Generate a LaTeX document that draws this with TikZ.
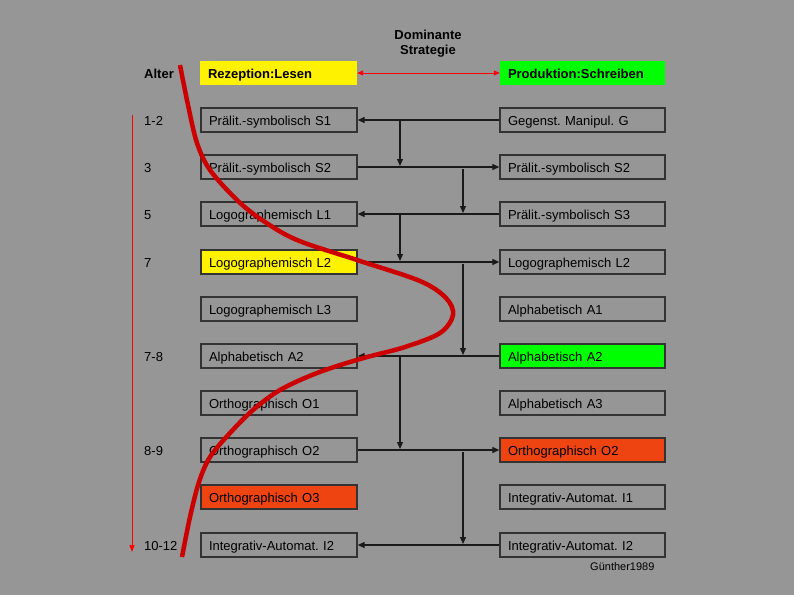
\documentclass[tikz,border=0pt]{standalone}
\usepackage{fontspec}
\setmainfont{Liberation Sans}
\usetikzlibrary{arrows.meta}
\definecolor{bg}{HTML}{969696}
\definecolor{boxline}{HTML}{333333}
\definecolor{conn}{HTML}{1A1A1A}
\definecolor{curvered}{HTML}{CC0000}
\definecolor{orangebox}{HTML}{EE4411}
\tikzset{
  lbox/.style={draw=boxline, line width=1.3pt, minimum height=24pt, text width=140pt, text height=11.8pt, text depth=1.5pt, inner xsep=8pt, inner ysep=0pt, align=left, font=\fontsize{13pt}{15pt}\selectfont},
  rbox/.style={lbox, text width=149pt},
  hbox/.style={minimum height=24pt, text height=11.5pt, text depth=1.5pt, inner xsep=8pt, inner ysep=0pt, align=left, font=\fontsize{13pt}{15pt}\selectfont\bfseries},
  agelab/.style={anchor=west, inner sep=0pt, text height=11.8pt, text depth=1.5pt, font=\fontsize{13pt}{15pt}\selectfont},
  conline/.style={draw=conn, line width=1.2pt, -{Triangle[length=7pt,width=6pt]}},
}
\begin{document}
\frenchspacing
\begin{tikzpicture}[x=1pt,y=-1pt]
\fill[bg] (0,0) rectangle (794,595);
\useasboundingbox (0,0) rectangle (794,595);

% title
\node[font=\fontsize{13pt}{15pt}\selectfont\bfseries, align=center] (title) at (428,44) {Dominante\\Strategie};
\node[agelab, font=\fontsize{13pt}{15pt}\selectfont\bfseries, text height=11.5pt] (alter) at (144,73) {Alter};

% header boxes
\node[hbox, fill=yellow, text width=141pt] (hl) at (278.5,73) {Rezeption:Lesen};
\node[hbox, fill=green, text width=149pt] (hr) at (582.5,73) {Produktion:Schreiben};
\draw[red, line width=1pt, {Triangle[length=6pt,width=5pt]}-{Triangle[length=6pt,width=5pt]}] (hl.east) -- (hr.west);

% left boxes
\node[lbox] (l1) at (279,120) {Prälit.-symbolisch S1};
\node[lbox] (l2) at (279,167) {Prälit.-symbolisch S2};
\node[lbox] (l3) at (279,214) {Logographemisch L1};
\node[lbox, fill=yellow] (l4) at (279,262) {Logographemisch L2};
\node[lbox] (l5) at (279,309) {Logographemisch L3};
\node[lbox] (l6) at (279,356) {Alphabetisch A2};
\node[lbox] (l7) at (279,403) {Orthographisch O1};
\node[lbox] (l8) at (279,450) {Orthographisch O2};
\node[lbox, fill=orangebox] (l9) at (279,497) {Orthographisch O3};
\node[lbox] (l10) at (279,545) {Integrativ-Automat. I2};

% right boxes
\node[rbox] (r1) at (582.5,120) {Gegenst. Manipul. G};
\node[rbox] (r2) at (582.5,167) {Prälit.-symbolisch S2};
\node[rbox] (r3) at (582.5,214) {Prälit.-symbolisch S3};
\node[rbox] (r4) at (582.5,262) {Logographemisch L2};
\node[rbox] (r5) at (582.5,309) {Alphabetisch A1};
\node[rbox, fill=green] (r6) at (582.5,356) {Alphabetisch A2};
\node[rbox] (r7) at (582.5,403) {Alphabetisch A3};
\node[rbox, fill=orangebox] (r8) at (582.5,450) {Orthographisch O2};
\node[rbox] (r9) at (582.5,497) {Integrativ-Automat. I1};
\node[rbox] (r10) at (582.5,545) {Integrativ-Automat. I2};

% ages
\node[agelab] (a1) at (144,120) {1-2};
\node[agelab] (a2) at (144,167) {3};
\node[agelab] (a3) at (144,214) {5};
\node[agelab] (a4) at (144,262) {7};
\node[agelab] (a6) at (144,356) {7-8};
\node[agelab] (a8) at (144,450) {8-9};
\node[agelab] (a10) at (144,545) {10-12};

% horizontal connectors
\draw[conline] (r1.west) -- (l1.east);
\draw[conline] (l2.east) -- (r2.west);
\draw[conline] (r3.west) -- (l3.east);
\draw[conline] (l4.east) -- (r4.west);
\draw[conline] (r6.west) -- (l6.east);
\draw[conline] (l8.east) -- (r8.west);
\draw[conline] (r10.west) -- (l10.east);

% vertical connectors
\coordinate (v1a) at (400,120); \coordinate (v1b) at (400,166);
\coordinate (v2a) at (463,169); \coordinate (v2b) at (463,213);
\coordinate (v3a) at (400,214); \coordinate (v3b) at (400,261);
\coordinate (v4a) at (463,264); \coordinate (v4b) at (463,355);
\coordinate (v5a) at (400,356); \coordinate (v5b) at (400,449);
\coordinate (v6a) at (463,452); \coordinate (v6b) at (463,544);
\draw[conline] (v1a) -- (v1b);
\draw[conline] (v2a) -- (v2b);
\draw[conline] (v3a) -- (v3b);
\draw[conline] (v4a) -- (v4b);
\draw[conline] (v5a) -- (v5b);
\draw[conline] (v6a) -- (v6b);

% age arrow
\coordinate (ag1) at (132,115); \coordinate (ag2) at (132,552);
\draw[red, line width=1pt, -{Triangle[length=7pt,width=5pt]}] (ag1) -- (ag2);

% red curve
\draw[curvered, line width=4.5pt] plot[smooth, tension=0.55] coordinates {
 (180,65) (188,105) (197,143) (210,170) (237,200) (262,220) (297,240) (357,260) (420,281) (446,298) (453,315) (440,333) (405,347) (360,359) (317,373) (280,390) (253,410) (230,433) (210,457) (199,482) (190,517) (182,557)};

\node[font=\fontsize{11pt}{13pt}\selectfont, anchor=west, inner sep=0pt] (cite) at (590,567) {Günther1989};
\end{tikzpicture}
\end{document}
